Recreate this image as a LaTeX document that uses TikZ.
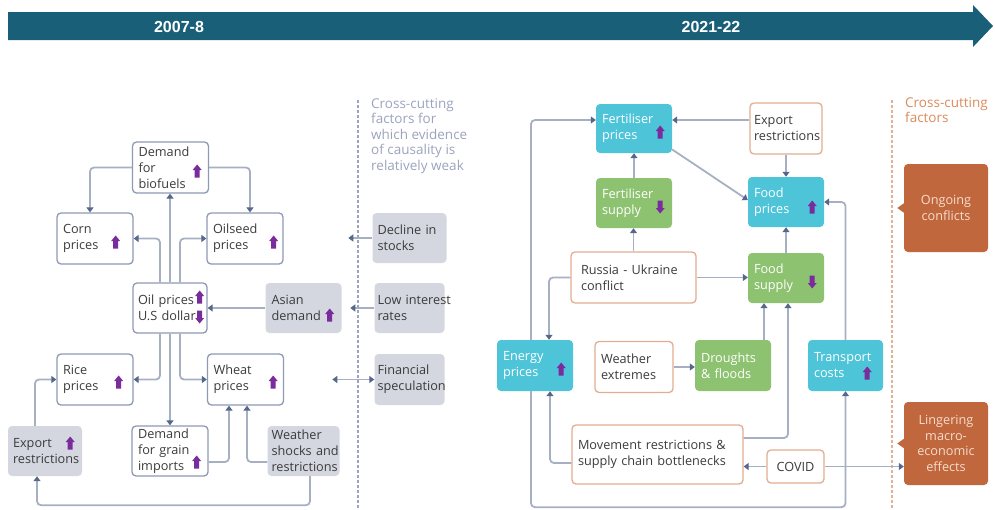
\documentclass[tikz,border=0pt]{standalone}
\usepackage{fontspec}
\setmainfont{Open Sans}
\newfontfamily\tlfont{Liberation Sans}
\usetikzlibrary{arrows.meta,calc}
\hyphenpenalty=10000
\exhyphenpenalty=10000
\definecolor{tl}{HTML}{1A5F78}
\definecolor{slate}{HTML}{8E99B3}
\definecolor{linec}{HTML}{A7B0C3}
\definecolor{arrowc}{HTML}{56688A}
\definecolor{graybox}{HTML}{D4D7DF}
\definecolor{txt}{HTML}{3C3C3C}
\definecolor{orangeb}{HTML}{E3AD90}
\definecolor{cyanb}{HTML}{4EC4D9}
\definecolor{greenb}{HTML}{8DC270}
\definecolor{rust}{HTML}{C0673D}
\definecolor{rusttxt}{HTML}{F6DCCB}
\definecolor{purp}{HTML}{7B2C9C}
\definecolor{dashL}{HTML}{9CA3BF}
\definecolor{dashR}{HTML}{E2B295}
\definecolor{ccL}{HTML}{9CA3BD}
\definecolor{ccR}{HTML}{DA8A5C}
\tikzset{
  bxbase/.style={rounded corners=4pt, minimum height=50pt, inner xsep=6pt, inner ysep=1pt,
    align=left, text width=64pt, font=\fontsize{12.7}{16}\selectfont, text=txt},
  wbox/.style={bxbase, draw=slate, line width=1.3pt, fill=white},
  gbox/.style={bxbase, fill=graybox},
  obox/.style={bxbase, draw=orangeb, line width=1.3pt, fill=white},
  cbox/.style={bxbase, fill=cyanb, text=white},
  grbox/.style={bxbase, fill=greenb, text=white},
  xbox/.style={rounded corners=4pt, fill=rust, text=rusttxt, align=center,
    minimum width=84pt, font=\fontsize{12.7}{15.5}\selectfont},
  conn/.style={draw=linec, line width=1.8pt, rounded corners=4pt, ->},
  >={Triangle[length=5pt,width=7pt,color=arrowc]},
  uparr/.pic={\fill[purp] (0,-6.5) -- (4.5,-1) -- (2.5,-1) -- (2.5,6.5) -- (-2.5,6.5) -- (-2.5,-1) -- (-4.5,-1) -- cycle;},
  dnarr/.pic={\fill[purp] (0,6.5) -- (4.5,1) -- (2.5,1) -- (2.5,-6.5) -- (-2.5,-6.5) -- (-2.5,1) -- (-4.5,1) -- cycle;},
}
\begin{document}
\begin{tikzpicture}[x=1pt,y=-1pt]
\useasboundingbox (0,0) rectangle (995,509);
% timeline
\fill[tl] (8,12) -- (973,12) -- (973,5) -- (993,26) -- (973,47) -- (973,40) -- (8,40) -- cycle;
\node[text=white, font=\tlfont\bfseries\fontsize{16}{18}\selectfont] (t1) at (179,27) {2007-8};
\node[text=white, font=\tlfont\bfseries\fontsize{16}{18}\selectfont] (t2) at (711,27) {2021-22};

% dashed separators
\draw[dashL, line width=2.4pt, dash pattern=on 3pt off 2pt] (358,100) -- (358,509);
\draw[dashR, line width=2.4pt, dash pattern=on 3pt off 2pt] (892,100) -- (892,509);
\node[anchor=north west, align=left, text=ccL, inner sep=0pt, font=\fontsize{13.5}{15.5}\selectfont] (ccl) at (371,98)
  {Cross-cutting\\factors for\\which evidence\\of causality is\\relatively weak};
\node[anchor=north west, align=left, text=ccR, inner sep=0pt, font=\fontsize{13.5}{15.5}\selectfont] (ccr) at (905,97)
  {Cross-cutting\\factors};

% ---------- left diagram ----------
\node[wbox, minimum height=51pt] (bio) at (170.5,167.5) {Demand\\for\\biofuels};
\node[wbox, minimum height=51pt] (corn) at (95,238.5) {Corn\\prices};
\node[wbox, minimum height=51pt] (oseed) at (245,238.5) {Oilseed\\prices};
\node[wbox, inner xsep=5pt] (oil) at (170,308) {Oil~prices\\U.S~dollar};
\node[gbox] (asian) at (303.5,308) {Asian\\demand};
\node[wbox, minimum height=51pt] (rice) at (95,379.5) {Rice\\prices};
\node[wbox, minimum height=51pt] (wheat) at (245.5,379.5) {Wheat\\prices};
\node[gbox, inner xsep=5pt] (exp) at (45,451) {Export\\restrictions};
\node[wbox] (grain) at (170,451) {Demand\\for~grain\\imports};
\node[gbox, inner xsep=4pt] (weather) at (303.5,451) {Weather\\shocks~and\\restrictions};
\node[gbox, inner xsep=5pt] (decline) at (409.5,238) {Decline~in\\stocks};
\node[gbox, inner xsep=3pt] (lowint) at (409.5,308) {Low~interest\\rates};
\node[gbox, minimum height=51pt, inner xsep=3pt] (finspec) at (409.5,379.5) {Financial\\speculation};

\pic at ($(bio.east)+(-12,3.5)$) {uparr};
\pic at ($(corn.east)+(-18,3.5)$) {uparr};
\pic at ($(oseed.east)+(-10,3.5)$) {uparr};
\pic at ($(oil.east)+(-8,-11)$) {uparr};
\pic at ($(oil.east)+(-8,9)$) {dnarr};
\pic at ($(asian.east)+(-12,7)$) {uparr};
\pic at ($(rice.east)+(-15,2.5)$) {uparr};
\pic at ($(wheat.east)+(-11,2.5)$) {uparr};
\pic at ($(exp.east)+(-12,-8)$) {uparr};
\pic at ($(grain.east)+(-12,11)$) {uparr};

\draw[conn] (bio.west) -| ($(corn.north)+(-5,0)$);
\draw[conn] (bio.east) -| ($(oseed.north)+(5,0)$);
\draw[conn] (oil.north) -- (oil.north |- bio.south);
\draw[conn] ($(oil.north)+(-10,0)$) |- (corn.east);
\draw[conn] ($(oil.north)+(10,0)$) |- (oseed.west);
\draw[conn] (asian.west) -- (asian.west -| oil.east);
\draw[conn] ($(oil.south)+(-10,0)$) |- (rice.east);
\draw[conn] (oil.south) -- (oil.south |- grain.north);
\draw[conn] ($(oil.south)+(10,0)$) |- (wheat.west);
\draw[conn] ($(grain.east)+(0,11)$) -| ($(wheat.south)+(-16.5,0)$);
\draw[conn] ($(weather.west)+(0,11)$) -| ($(wheat.south)+(1.5,0)$);
\draw[conn] ($(exp.north)+(-10,0)$) |- (rice.west);
\draw[conn] ($(weather.south)+(6.5,0)$) -- ++(0,29) -| ($(exp.south)+(-8,0)$);
\draw[conn] (decline.west) -- ++(-24,0);
\draw[conn] (lowint.west) -- ++(-24,0);
\draw[conn, <->] ($(finspec.west)+(-42,0)$) -- (finspec.west);

% ---------- right diagram ----------
\node[cbox, minimum height=49pt] (fertp) at (634,128.5) {Fertiliser\\prices};
\node[obox, minimum height=51pt, inner xsep=4pt] (expr) at (786,128.5) {Export\\restrictions};
\node[grbox] (ferts) at (634,203) {Fertiliser\\supply};
\node[cbox] (foodp) at (786,202) {Food\\prices};
\node[obox, minimum height=51pt, text width=105pt, inner xsep=10pt] (russia) at (633.5,277.5) {Russia~-~Ukraine\\conflict};
\node[grbox] (foods) at (786,278) {Food\\supply};
\node[cbox, minimum height=51pt] (energy) at (535,365.5) {Energy\\prices};
\node[obox, minimum height=51pt, text width=66pt] (wext) at (634,367) {Weather\\extremes};
\node[grbox, minimum height=51pt] (drought) at (733,365.5) {Droughts\\\&~floods};
\node[cbox, minimum height=51pt, text width=63pt] (transport) at (845.5,365.5) {Transport\\costs};
\node[obox, minimum height=59pt, text width=159pt] (move) at (657.5,454.5) {Movement~restrictions~\&\\supply~chain~bottlenecks};
\node[obox, minimum height=33pt, minimum width=57pt, text width={}, align=center, inner xsep=0pt] (covid) at (795.5,466.5) {COVID};
\node[xbox, minimum height=88pt] (ongoing) at (946,208) {Ongoing\\conflicts};
\node[xbox, minimum height=83pt] (linger) at (946,443.5) {Lingering\\macro-\\economic\\effects};
\fill[rust] ($(ongoing.west)+(0.5,-5)$) -- ++(-7,5) -- ++(7,5) -- cycle;
\fill[rust] ($(linger.west)+(0.5,-5)$) -- ++(-7,5) -- ++(7,5) -- cycle;

\pic at ($(fertp.east)+(-12,3.5)$) {uparr};
\pic at ($(ferts.east)+(-12,4)$) {dnarr};
\pic at ($(foodp.east)+(-12,5)$) {uparr};
\pic at ($(foods.east)+(-12,4)$) {dnarr};
\pic at ($(energy.east)+(-12,3.5)$) {uparr};
\pic at ($(transport.east)+(-16,7.5)$) {uparr};

\draw[conn] ($(expr.west)+(0,-8.5)$) -- ($(fertp.east)+(0,-8.5)$);
\draw[conn] (expr.south) -- (foodp.north);
\draw[conn] ($(fertp.east)+(0,21)$) -- ($(foodp.west)+(0,-2)$);
\draw[conn] (ferts.north) -- (fertp.south);
\draw[conn] (russia.north) -- (russia.north |- ferts.south);
\draw[conn] (russia.east) -- (russia.east -| foods.west);
\draw[conn] (foods.north) -- (foodp.south);
\draw[conn] (russia.west) -| ($(energy.north)+(14,0)$);
\draw[conn] ($(energy.north)+(-4,0)$) |- ($(fertp.west)+(0,-8.5)$);
\draw[conn] ($(energy.south)+(-4,0)$) -- ++(0,116) -| (transport.south);
\draw[conn] (transport.north) |- (foodp.east);
\draw[conn] ($(move.west)+(0,8.5)$) -| ($(energy.south)+(15,0)$);
\draw[conn] ($(move.east)+(0,-16.5)$) -| ($(foods.south)+(2,0)$);
\draw[conn] ($(drought.north)+(31,0)$) -- ($(foods.south)+(-22,0)$);
\draw[conn] (wext.east) -- (wext.east -| drought.west);
\draw[conn] (covid.west) -- (covid.west -| move.east);
\draw[conn] (covid.east) -- (covid.east -| linger.west);
\end{tikzpicture}
\end{document}
